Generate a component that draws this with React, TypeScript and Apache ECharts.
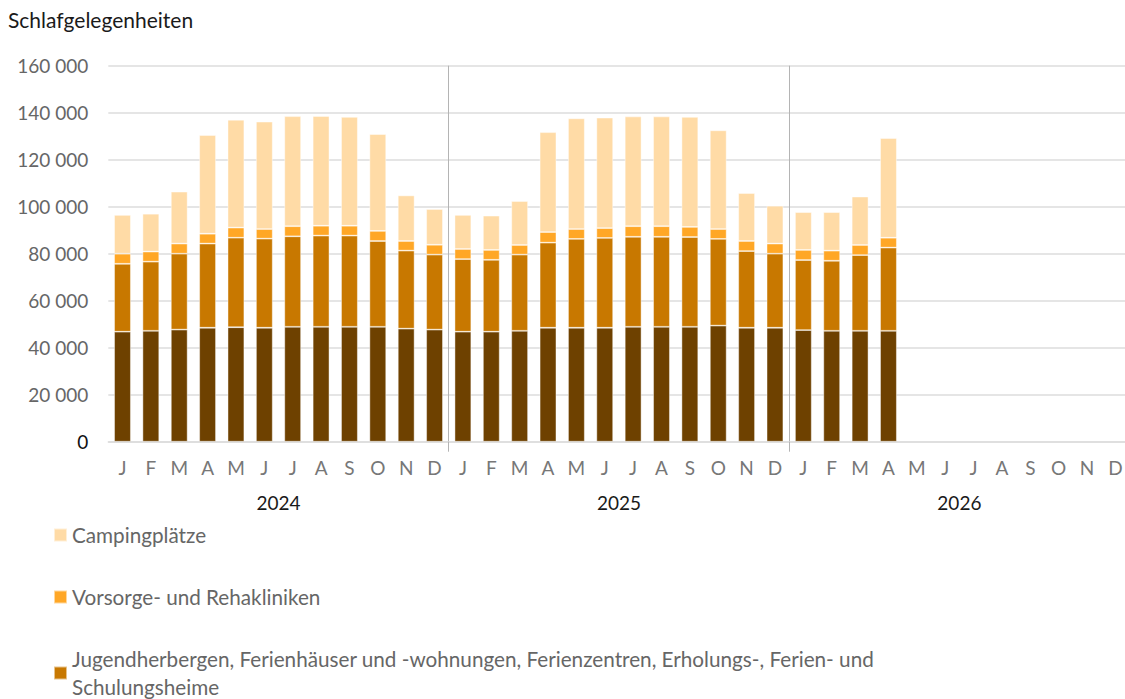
import React, { useEffect, useRef } from "react";
import * as echarts from "echarts";

const monthKeys = [
  "2024-01","2024-02","2024-03","2024-04","2024-05","2024-06","2024-07","2024-08","2024-09","2024-10","2024-11","2024-12",
  "2025-01","2025-02","2025-03","2025-04","2025-05","2025-06","2025-07","2025-08","2025-09","2025-10","2025-11","2025-12",
  "2026-01","2026-02","2026-03","2026-04","2026-05","2026-06","2026-07","2026-08","2026-09","2026-10","2026-11","2026-12",
];
const monthLetters = ["J","F","M","A","M","J","J","A","S","O","N","D"];
const years = ["2024", "2025", "2026"];

const hotelsName = "Hotels, Gasthöfe und Pensionen";
const jugendName = "Jugendherbergen, Ferienhäuser und -wohnungen, Ferienzentren, Erholungs-, Ferien- und Schulungsheime";
const rehaName = "Vorsorge- und Rehakliniken";
const campingName = "Campingplätze";

const hotels = [
  46800, 47200, 47700, 48500, 48700, 48500, 48900, 48900, 48900, 48900, 48100, 47700,
  46800, 46800, 47200, 48500, 48500, 48500, 48900, 48900, 48900, 49400, 48500, 48500,
  47500, 47200, 47200, 47200, null, null, null, null, null, null, null, null,
];
const jugend = [
  28900, 29400, 32300, 35800, 38100, 37900, 38500, 38800, 38800, 36500, 33200, 31900,
  30900, 30600, 32400, 36200, 37800, 38200, 38300, 38300, 38200, 36900, 32600, 31500,
  29800, 29800, 32200, 35400, null, null, null, null, null, null, null, null,
];
const reha = [
  4300, 4300, 4300, 4200, 4300, 4100, 4300, 4200, 4200, 4300, 4100, 4200,
  4300, 4200, 4100, 4500, 4200, 4200, 4500, 4500, 4300, 4200, 4300, 4300,
  4300, 4300, 4300, 4200, null, null, null, null, null, null, null, null,
];
const camping = [
  16500, 16100, 22100, 42000, 45900, 45700, 46800, 46700, 46300, 41200, 19400, 15200,
  14500, 14600, 18700, 42500, 47100, 47000, 46700, 46700, 46800, 42000, 20400, 16100,
  16100, 16400, 20600, 42400, null, null, null, null, null, null, null, null,
];

const FONT = "Lato";

function fmt(v: number): string {
  if (v === 0) return "{z|0}";
  return String(v).replace(/\B(?=(\d{3})+(?!\d))/g, " ");
}

export default function App() {
  const ref = useRef<HTMLDivElement>(null);
  useEffect(() => {
    if (!ref.current) return;
    const chart = echarts.init(ref.current, null, { renderer: "svg" });
    const barBase = {
      type: "bar",
      stack: "total",
      barWidth: "59%",
      xAxisIndex: 0,
      yAxisIndex: 0,
    };
    const border = { borderColor: "rgba(255,255,255,0.55)", borderWidth: 0.8 };
    chart.setOption({
      animation: false,
      textStyle: { fontFamily: FONT },
      title: {
        text: "Schlafgelegenheiten",
        left: 8,
        top: 9,
        padding: 0,
        textStyle: { fontFamily: FONT, fontSize: 21, fontWeight: "normal", color: "#1a1a1a" },
      },
      legend: {
        orient: "vertical",
        left: 48,
        top: 516,
        height: 300,
        itemWidth: 13,
        itemHeight: 13,
        itemGap: 34,
        icon: "rect",
        data: [campingName, rehaName, jugendName],
        formatter: (name: string) =>
          name === jugendName
            ? "Jugendherbergen, Ferienhäuser und -wohnungen, Ferienzentren, Erholungs-, Ferien- und\nSchulungsheime"
            : name,
        textStyle: { fontFamily: FONT, fontSize: 20.7, color: "#666", lineHeight: 28 },
      },
      grid: { left: 108.3, top: 65.7, width: 1021.3, height: 376 },
      xAxis: [
        {
          type: "category",
          data: monthKeys,
          boundaryGap: true,
          axisLine: { show: true, lineStyle: { color: "#dcdcdc", width: 1.5 } },
          axisTick: {
            show: true,
            interval: (i: number) => i === 12 || i === 24,
            length: 10,
            lineStyle: { color: "#b4b4b4", width: 1 },
          },
          splitLine: {
            show: true,
            interval: (i: number) => i === 12 || i === 24,
            lineStyle: { color: "#b4b4b4", width: 1 },
          },
          axisLabel: {
            interval: 0,
            margin: 16,
            fontFamily: FONT,
            fontSize: 19,
            color: "#777",
            formatter: (v: string) => monthLetters[parseInt(v.slice(5), 10) - 1],
          },
        },
        {
          type: "category",
          data: years,
          position: "bottom",
          boundaryGap: true,
          axisLine: { show: false },
          axisTick: { show: false },
          splitLine: { show: false },
          axisLabel: { margin: 51, fontFamily: FONT, fontSize: 19, color: "#1a1a1a" },
        },
      ],
      yAxis: {
        type: "value",
        min: 0,
        max: 160000,
        interval: 20000,
        axisLine: { show: false },
        axisTick: { show: false },
        splitLine: { lineStyle: { color: "#dcdcdc", width: 1.5 } },
        axisLabel: {
          margin: 20,
          fontFamily: FONT,
          fontSize: 19,
          color: "#666",
          formatter: fmt,
          rich: { z: { fontFamily: FONT, fontSize: 19, color: "#111" } },
        },
      },
      series: [
        { ...barBase, name: hotelsName, data: hotels, itemStyle: { color: "#6e4100", ...border } },
        { ...barBase, name: jugendName, data: jugend, itemStyle: { color: "#c87800", ...border } },
        { ...barBase, name: rehaName, data: reha, itemStyle: { color: "#ffa726", ...border } },
        { ...barBase, name: campingName, data: camping, itemStyle: { color: "#ffdba6", ...border } },
      ],
    });
    return () => chart.dispose();
  }, []);
  return (
    <div style={{ position: "fixed", left: 0, top: 0, width: 1125, height: 699, overflow: "hidden", background: "#fff" }}>
      <div ref={ref} style={{ width: 1135, height: 820 }} />
    </div>
  );
}
